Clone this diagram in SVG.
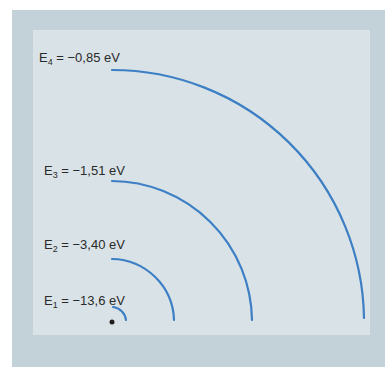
<svg xmlns="http://www.w3.org/2000/svg" width="385" height="367" viewBox="0 0 385 367">
<style>
.lbl{font-family:"Liberation Sans",Arial,sans-serif;font-size:13px;fill:#2a2a2a}
.sub{font-size:9px}
.orb{fill:none;stroke:#3d7fc4;stroke-width:2.2;stroke-linecap:round}
</style>
<rect x="0" y="0" width="385" height="367" fill="#ffffff"/>
<rect x="12" y="10" width="373" height="357" fill="#c3d1d8"/>
<rect x="33" y="30" width="337" height="305" fill="#d9e2e6"/>
<g id="connectors">
<path class="orb" d="M112 70 A252 252 0 0 1 364 318"/>
<path class="orb" d="M112 181 A141 141 0 0 1 252 320"/>
<path class="orb" d="M112 259 A63 63 0 0 1 174 320"/>
<path class="orb" d="M113 307 A15 15 0 0 1 126 320"/>
</g>
<g id="nucleus"><circle cx="112" cy="322" r="2.5" fill="#1e1e1e"/></g>
<g id="E4"><text class="lbl" x="39" y="62">E<tspan class="sub" dy="3">4</tspan><tspan dy="-3"> = −0,85 eV</tspan></text></g>
<g id="E3"><text class="lbl" x="44" y="175">E<tspan class="sub" dy="3">3</tspan><tspan dy="-3"> = −1,51 eV</tspan></text></g>
<g id="E2"><text class="lbl" x="44" y="249">E<tspan class="sub" dy="3">2</tspan><tspan dy="-3"> = −3,40 eV</tspan></text></g>
<g id="E1"><text class="lbl" x="44" y="305">E<tspan class="sub" dy="3">1</tspan><tspan dy="-3"> = −13,6 eV</tspan></text></g>
</svg>
